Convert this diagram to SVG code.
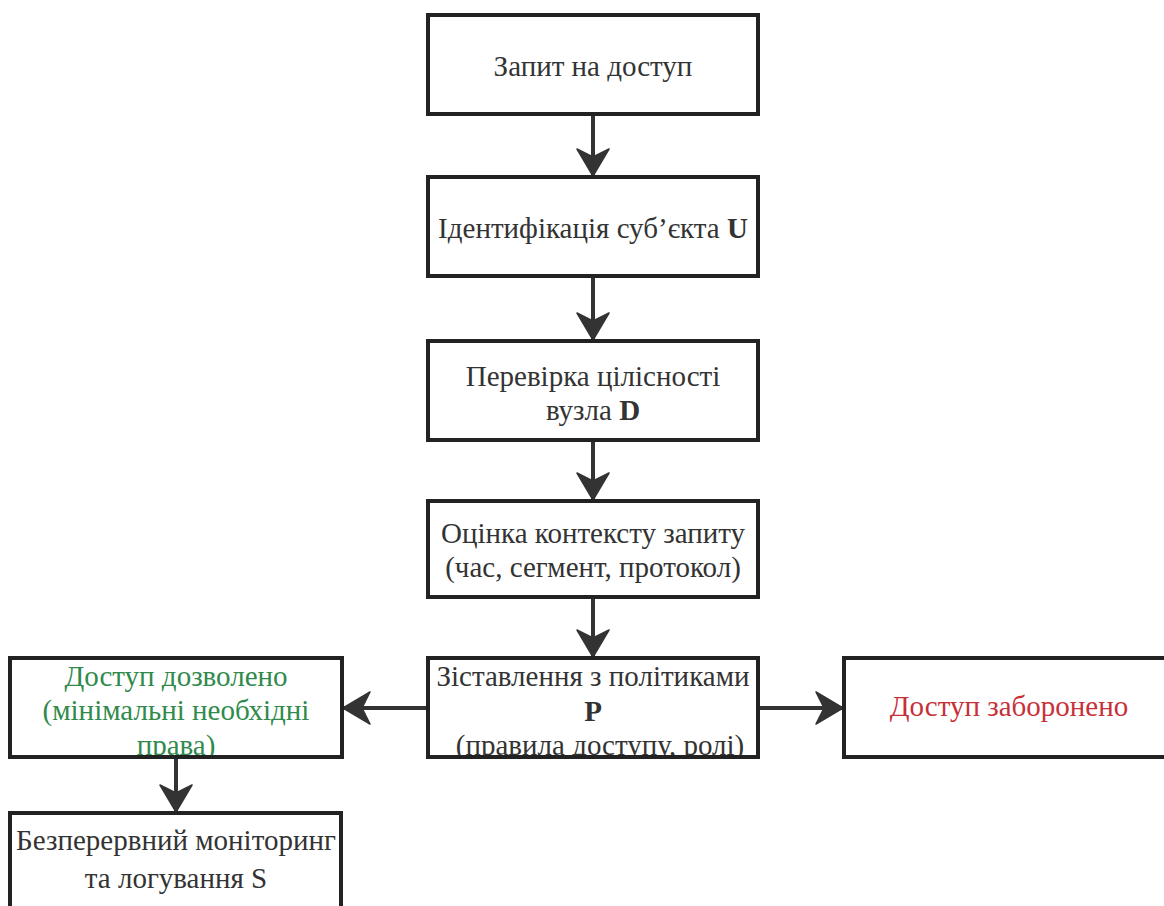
<svg xmlns="http://www.w3.org/2000/svg" width="1164" height="906" viewBox="0 0 1164 906">
  <style>
    .box { fill: #ffffff; stroke: #222222; stroke-width: 4; }
    .lbl { font-family: 'Liberation Serif', 'Times New Roman', serif; font-size: 29px; fill: #333333; text-anchor: middle; }
    .ok { fill: #2f8a4c; }
    .deny { fill: #c83038; }
    .edge { stroke: #333333; stroke-width: 4; fill: none; marker-end: url(#head); }
  </style>
  <defs>
    <marker id="head" viewBox="-28 -17 30 34" refX="0" refY="0" markerWidth="30" markerHeight="34" markerUnits="userSpaceOnUse" orient="auto">
      <path d="M0,0 L-27,-16 L-19,0 L-27,16 Z" fill="#333333" stroke="#333333" stroke-width="1.5" stroke-linejoin="round"/>
    </marker>
    <clipPath id="clipP"><rect x="428" y="657" width="330" height="98"/></clipPath>
    <clipPath id="clipOk"><rect x="10" y="657" width="332" height="98"/></clipPath>
  </defs>
  <rect width="1164" height="906" fill="#ffffff"/>

  <g id="connectors">
    <line class="edge" x1="593" y1="115" x2="593" y2="176"/>
    <line class="edge" x1="593" y1="277" x2="593" y2="340"/>
    <line class="edge" x1="593" y1="441" x2="593" y2="500"/>
    <line class="edge" x1="593" y1="598" x2="593" y2="657"/>
    <line class="edge" x1="428" y1="708" x2="343" y2="708"/>
    <line class="edge" x1="758" y1="708" x2="843" y2="708"/>
    <line class="edge" x1="176" y1="758" x2="176" y2="812"/>
  </g>

  <g id="request">
    <rect class="box" x="428" y="15" width="330" height="99"/>
    <text class="lbl" x="593" y="76">Запит на доступ</text>
  </g>

  <g id="identify">
    <rect class="box" x="428" y="177" width="330" height="99"/>
    <text class="lbl" x="593" y="238">Ідентифікація суб’єкта <tspan font-weight="bold">U</tspan></text>
  </g>

  <g id="integrity">
    <rect class="box" x="428" y="341" width="330" height="99"/>
    <text class="lbl" x="593" y="386">Перевірка цілісності</text>
    <text class="lbl" x="593" y="420">вузла <tspan font-weight="bold">D</tspan></text>
  </g>

  <g id="context">
    <rect class="box" x="428" y="501" width="330" height="96"/>
    <text class="lbl" x="593" y="543">Оцінка контексту запиту</text>
    <text class="lbl" x="593" y="577">(час, сегмент, протокол)</text>
  </g>

  <g id="policies">
    <rect class="box" x="428" y="658" width="330" height="99"/>
    <g clip-path="url(#clipP)">
      <text class="lbl" x="593" y="686">Зіставлення з політиками</text>
      <text class="lbl" x="593" y="721" font-weight="bold">P</text>
      <text class="lbl" x="600" y="755">(правила доступу, ролі)</text>
    </g>
  </g>

  <g id="allowed">
    <rect class="box" x="10" y="658" width="332" height="99"/>
    <g clip-path="url(#clipOk)">
      <text class="lbl ok" x="176" y="686">Доступ дозволено</text>
      <text class="lbl ok" x="176" y="720">(мінімальні необхідні</text>
      <text class="lbl ok" x="176" y="755">права)</text>
    </g>
  </g>

  <g id="denied">
    <rect class="box" x="844" y="658" width="330" height="99"/>
    <text class="lbl deny" x="1009" y="716">Доступ заборонено</text>
  </g>

  <g id="monitoring">
    <rect class="box" x="10" y="813" width="331" height="110"/>
    <text class="lbl" x="176" y="850">Безперервний моніторинг</text>
    <text class="lbl" x="176" y="888">та логування S</text>
  </g>
</svg>
